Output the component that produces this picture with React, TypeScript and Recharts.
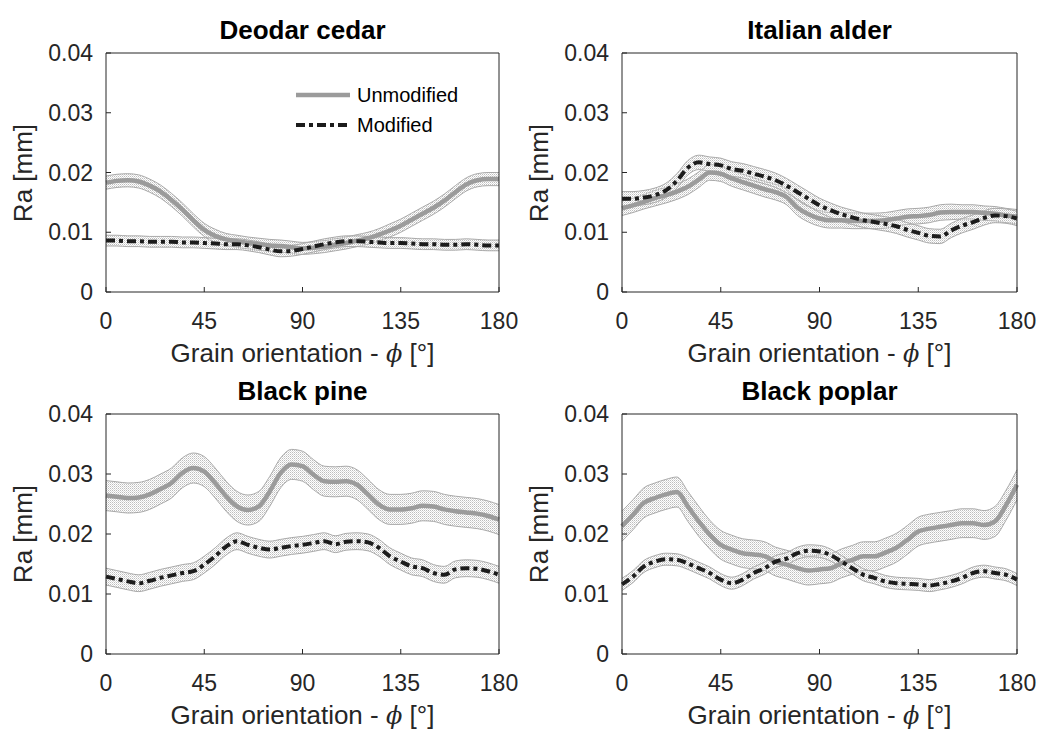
import { Area, ComposedChart, Legend, Line, XAxis, YAxis } from 'recharts';

// grain orientation, degrees
const angles = [
  0, 5, 10, 15, 20, 25, 30, 35, 40, 45, 50, 55, 60, 65, 70, 75, 80, 85, 90,
  95, 100, 105, 110, 115, 120, 125, 130, 135, 140, 145, 150, 155, 160, 165, 170, 175, 180,
];
const xTicks = [0, 45, 90, 135, 180];
const yTicks = [0, 0.01, 0.02, 0.03, 0.04];
const seriesNames = ['Unmodified', 'Modified'];

// Deodar cedar
const deodarUnmod = [
  0.0183, 0.0186, 0.0187, 0.0185, 0.0178, 0.0168, 0.0154, 0.0138, 0.012, 0.0104, 0.0094, 0.0088, 0.0085,
  0.0082, 0.008, 0.0078, 0.0077, 0.0075, 0.0073, 0.0074, 0.0076, 0.0079, 0.0082, 0.0086, 0.009, 0.0096,
  0.0103, 0.0111, 0.0121, 0.0131, 0.0141, 0.0153, 0.0167, 0.018, 0.0187, 0.0189, 0.0189,
];
const deodarUnmodErr = [
  0.0011, 0.0011, 0.0011, 0.0011, 0.0011, 0.0011, 0.0011, 0.0011, 0.0011, 0.0011, 0.0011, 0.001, 0.001,
  0.001, 0.001, 0.001, 0.001, 0.001, 0.001, 0.001, 0.001, 0.001, 0.001, 0.001, 0.001, 0.001,
  0.0011, 0.0011, 0.0011, 0.0011, 0.0011, 0.0011, 0.0011, 0.0011, 0.0011, 0.0011, 0.0011,
];
const deodarMod = [
  0.0086, 0.0086, 0.0085, 0.0085, 0.0084, 0.0084, 0.0084, 0.0083, 0.0083, 0.0082, 0.0081, 0.008, 0.008,
  0.0078, 0.0075, 0.0071, 0.0068, 0.0069, 0.0072, 0.0076, 0.008, 0.0083, 0.0085, 0.0085, 0.0084, 0.0083,
  0.0082, 0.0082, 0.0081, 0.008, 0.008, 0.0079, 0.0079, 0.008, 0.0079, 0.0078, 0.0078,
];
const deodarModErr = [
  0.0009, 0.0009, 0.0009, 0.0009, 0.0009, 0.0009, 0.0009, 0.0009, 0.0009, 0.0009, 0.0009, 0.0009, 0.0009,
  0.0009, 0.0009, 0.0009, 0.0009, 0.0009, 0.0009, 0.0009, 0.0009, 0.0009, 0.0009, 0.0009, 0.0009, 0.0009,
  0.0009, 0.0009, 0.0009, 0.0009, 0.0009, 0.0009, 0.0009, 0.0009, 0.0009, 0.0009, 0.0009,
];

// Italian alder
const alderUnmod = [
  0.014, 0.0145, 0.0151, 0.0157, 0.0162, 0.0168, 0.0176, 0.0188, 0.02, 0.0198, 0.019, 0.0184, 0.0178,
  0.0172, 0.0167, 0.0159, 0.0141, 0.013, 0.0123, 0.012, 0.012, 0.0119, 0.0119, 0.0119, 0.012, 0.0123,
  0.0126, 0.0127, 0.0129, 0.0133, 0.0134, 0.0134, 0.0134, 0.0132, 0.0131, 0.0128, 0.0126,
];
const alderUnmodErr = [
  0.0012, 0.0012, 0.0012, 0.0013, 0.0013, 0.0013, 0.0013, 0.0013, 0.0013, 0.0013, 0.0013, 0.0013, 0.0013,
  0.0013, 0.0013, 0.0013, 0.0013, 0.0013, 0.0013, 0.0013, 0.0013, 0.0013, 0.0013, 0.0013, 0.0013, 0.0013,
  0.0013, 0.0013, 0.0013, 0.0013, 0.0013, 0.0012, 0.0012, 0.0012, 0.0012, 0.0012, 0.0012,
];
const alderMod = [
  0.0156, 0.0156, 0.0158, 0.0162, 0.017, 0.0186, 0.0208, 0.0217, 0.0214, 0.0212, 0.0206, 0.0203, 0.0198,
  0.0193, 0.0187, 0.0178, 0.0167, 0.0156, 0.0145, 0.0137, 0.013, 0.0125, 0.012, 0.0117, 0.0114, 0.011,
  0.0104, 0.0099, 0.0094, 0.0093, 0.0103, 0.0111, 0.0117, 0.0124, 0.0128, 0.0127, 0.0123,
];
const alderModErr = [
  0.0012, 0.0012, 0.0012, 0.0012, 0.0012, 0.0012, 0.0012, 0.0012, 0.0012, 0.0012, 0.0012, 0.0012, 0.0012,
  0.0012, 0.0012, 0.0012, 0.0012, 0.0012, 0.0012, 0.0012, 0.0012, 0.0012, 0.0012, 0.0012, 0.0012, 0.0012,
  0.0012, 0.0012, 0.0012, 0.0012, 0.0012, 0.0012, 0.0012, 0.0012, 0.0012, 0.0012, 0.0012,
];

// Black pine
const pineUnmod = [
  0.0264, 0.0262, 0.026, 0.0261, 0.0266, 0.0275, 0.0285, 0.0302, 0.031, 0.0304, 0.0285, 0.0263, 0.0246,
  0.024, 0.0246, 0.0271, 0.0302, 0.0316, 0.0313, 0.0299, 0.0288, 0.0287, 0.0288, 0.0282, 0.0266, 0.0249,
  0.0241, 0.0241, 0.0243, 0.0247, 0.0246, 0.0241, 0.0238, 0.0236, 0.0234, 0.023, 0.0224,
];
const pineUnmodErr = [
  0.0025, 0.0025, 0.0025, 0.0025, 0.0025, 0.0025, 0.0025, 0.0025, 0.0025, 0.0025, 0.0025, 0.0025, 0.0025,
  0.0025, 0.0025, 0.0025, 0.0025, 0.0025, 0.0025, 0.0025, 0.0025, 0.0025, 0.0025, 0.0025, 0.0025, 0.0025,
  0.0025, 0.0025, 0.0025, 0.0025, 0.0025, 0.0025, 0.0025, 0.0025, 0.0025, 0.0025, 0.0025,
];
const pineMod = [
  0.0129, 0.0125, 0.0121, 0.0118, 0.0122, 0.0127, 0.0131, 0.0135, 0.0138, 0.0149, 0.0163, 0.0179, 0.0188,
  0.0182, 0.0177, 0.0174, 0.0177, 0.018, 0.0182, 0.0185, 0.0188, 0.0183, 0.0187, 0.0188, 0.0186, 0.0177,
  0.0163, 0.0154, 0.0146, 0.0143, 0.0135, 0.0132, 0.0141, 0.0143, 0.0142, 0.0138, 0.0132,
];
const pineModErr = [
  0.0014, 0.0014, 0.0014, 0.0014, 0.0014, 0.0014, 0.0014, 0.0014, 0.0014, 0.0014, 0.0014, 0.0014, 0.0014,
  0.0014, 0.0014, 0.0014, 0.0014, 0.0014, 0.0014, 0.0014, 0.0014, 0.0014, 0.0014, 0.0014, 0.0014, 0.0014,
  0.0014, 0.0014, 0.0014, 0.0014, 0.0014, 0.0014, 0.0014, 0.0014, 0.0014, 0.0014, 0.0014,
];

// Black poplar
const poplarUnmod = [
  0.0213, 0.0232, 0.0252, 0.026, 0.0266, 0.027, 0.0246, 0.0221, 0.0199, 0.0182, 0.0174, 0.0168, 0.0166,
  0.0163, 0.0154, 0.0149, 0.0143, 0.0139, 0.0141, 0.0143, 0.0151, 0.0157, 0.0163, 0.0163, 0.0169, 0.0177,
  0.019, 0.0204, 0.0209, 0.0212, 0.0215, 0.0218, 0.0218, 0.0215, 0.0221, 0.0248, 0.0282,
];
const poplarUnmodErr = [
  0.0025, 0.0025, 0.0025, 0.0025, 0.0025, 0.0025, 0.0025, 0.0025, 0.0024, 0.0024, 0.0024, 0.0024, 0.0024,
  0.0024, 0.0024, 0.0024, 0.0024, 0.0024, 0.0024, 0.0024, 0.0024, 0.0024, 0.0024, 0.0024, 0.0024, 0.0024,
  0.0024, 0.0024, 0.0024, 0.0024, 0.0024, 0.0024, 0.0024, 0.0024, 0.0025, 0.0025, 0.0025,
];
const poplarMod = [
  0.0116, 0.0129, 0.0146, 0.0154, 0.0158, 0.0157, 0.0151, 0.0143, 0.0135, 0.0124, 0.0118, 0.0124, 0.0135,
  0.0143, 0.0154, 0.0159, 0.0168, 0.0172, 0.0171, 0.0165, 0.0154, 0.0143, 0.0132, 0.0127, 0.0121, 0.0118,
  0.0117, 0.0116, 0.0114, 0.0117, 0.0121, 0.0127, 0.0135, 0.0138, 0.0135, 0.0132, 0.0124,
];
const poplarModErr = [
  0.001, 0.001, 0.001, 0.001, 0.001, 0.001, 0.001, 0.001, 0.001, 0.001, 0.001, 0.001, 0.001,
  0.001, 0.001, 0.001, 0.001, 0.001, 0.001, 0.001, 0.001, 0.001, 0.001, 0.001, 0.001, 0.001,
  0.001, 0.001, 0.001, 0.001, 0.001, 0.001, 0.001, 0.001, 0.001, 0.001, 0.001,
];

const FONT = '"Liberation Sans", Arial, Helvetica, sans-serif';
const AXIS = '#262626';
const UNMOD = '#9b9b9b';
const MOD = '#1c1c1c';
const MOD_DASH = '9 4 4 4';

interface Box {
  x: number;
  y: number;
  w: number;
  h: number;
}
interface Plot {
  l: number;
  t: number;
  r: number;
  b: number;
}

interface PanelProps {
  id: string;
  title: string;
  box: Box;
  plot: Plot;
  unmod: number[];
  unmodErr: number[];
  mod: number[];
  modErr: number[];
  legend?: boolean;
}

const Y_LEFT_W = 60;
const Y_RIGHT_W = 10;
const X_BOTTOM_H = 40;
const X_TOP_H = 10;

function LegendBox({ payload }: { payload?: Array<{ value?: string; type?: string }> }) {
  const items = (payload ?? [])
    .filter((p) => p.type !== 'none')
    .sort((a, b) => seriesNames.indexOf(a.value ?? '') - seriesNames.indexOf(b.value ?? ''));
  return (
    <svg width={200} height={62} style={{ display: 'block' }}>
      {items.map((p, i) => {
        const cy = 15 + i * 30;
        const dashed = p.value === 'Modified';
        return (
          <g key={p.value}>
            <line
              x1={2}
              x2={56}
              y1={cy}
              y2={cy}
              stroke={dashed ? MOD : UNMOD}
              strokeWidth={dashed ? 4 : 4.5}
              strokeDasharray={dashed ? MOD_DASH : undefined}
            />
            <text x={63} y={cy} dominantBaseline="central" fontSize={20} fontFamily={FONT} fill="#000">
              {p.value}
            </text>
          </g>
        );
      })}
    </svg>
  );
}

function Panel({ id, title, box, plot, unmod, unmodErr, mod, modErr, legend }: PanelProps) {
  const data = angles.map((a, i) => ({
    a,
    unmod: unmod[i],
    unmodBand: [unmod[i] - unmodErr[i], unmod[i] + unmodErr[i]],
    mod: mod[i],
    modBand: [mod[i] - modErr[i], mod[i] + modErr[i]],
  }));

  const margin = {
    left: plot.l - box.x - Y_LEFT_W,
    right: box.x + box.w - plot.r - Y_RIGHT_W,
    top: plot.t - box.y - X_TOP_H,
    bottom: box.y + box.h - plot.b - X_BOTTOM_H,
  };
  const cx = (plot.l + plot.r) / 2 - box.x;
  const cy = (plot.t + plot.b) / 2 - box.y;

  const tickStyle = { fill: AXIS, fontSize: 23, fontFamily: FONT };

  return (
    <div style={{ position: 'absolute', left: box.x, top: box.y, width: box.w, height: box.h }}>
      <ComposedChart width={box.w} height={box.h} data={data} margin={margin}>
        <defs>
          <pattern id={`stip-${id}`} width={2} height={2} patternUnits="userSpaceOnUse">
            <rect x={0} y={0} width={1} height={1} fill="#bdbdbd" />
            <rect x={1} y={1} width={1} height={1} fill="#dcdcdc" />
          </pattern>
        </defs>
        <XAxis
          dataKey="a"
          type="number"
          domain={[0, 180]}
          ticks={xTicks}
          interval={0}
          height={X_BOTTOM_H}
          tickSize={-5}
          tickMargin={26}
          tick={tickStyle}
          stroke={AXIS}
          axisLine={{ stroke: AXIS }}
          tickLine={{ stroke: AXIS }}
        />
        <XAxis
          xAxisId="top"
          orientation="top"
          type="number"
          domain={[0, 180]}
          allowDataOverflow
          ticks={xTicks}
          interval={0}
          height={X_TOP_H}
          tickSize={-5}
          tick={false}
          axisLine={{ stroke: AXIS }}
          tickLine={{ stroke: AXIS }}
        />
        <YAxis
          type="number"
          domain={[0, 0.04]}
          allowDataOverflow
          ticks={yTicks}
          interval={0}
          width={Y_LEFT_W}
          tickSize={-5}
          tickMargin={18}
          tick={tickStyle}
          tickFormatter={(v: number) => (v === 0 ? '0' : v.toFixed(2))}
          axisLine={{ stroke: AXIS }}
          tickLine={{ stroke: AXIS }}
        />
        <YAxis
          yAxisId="right"
          orientation="right"
          type="number"
          domain={[0, 0.04]}
          allowDataOverflow
          ticks={yTicks}
          interval={0}
          width={Y_RIGHT_W}
          tickSize={-5}
          tick={false}
          axisLine={{ stroke: AXIS }}
          tickLine={{ stroke: AXIS }}
        />

        <Area
          type="monotone"
          dataKey="unmodBand"
          stroke="#a9a9a9"
          strokeWidth={1}
          fill={`url(#stip-${id})`}
          fillOpacity={1}
          dot={false}
          activeDot={false}
          legendType="none"
          isAnimationActive={false}
        />
        <Area
          type="monotone"
          dataKey="modBand"
          stroke="#a9a9a9"
          strokeWidth={1}
          fill={`url(#stip-${id})`}
          fillOpacity={1}
          dot={false}
          activeDot={false}
          legendType="none"
          isAnimationActive={false}
        />
        <Line
          type="monotone"
          dataKey="unmod"
          name={seriesNames[0]}
          stroke={UNMOD}
          strokeWidth={4.5}
          dot={false}
          activeDot={false}
          isAnimationActive={false}
        />
        <Line
          type="monotone"
          dataKey="mod"
          name={seriesNames[1]}
          stroke={MOD}
          strokeWidth={4}
          strokeDasharray={MOD_DASH}
          dot={false}
          activeDot={false}
          isAnimationActive={false}
        />
        {legend && (
          <Legend
            layout="vertical"
            align="center"
            verticalAlign="middle"
            content={<LegendBox />}
            wrapperStyle={{ position: 'absolute', left: 294, top: 80, width: 200, height: 62 }}
          />
        )}
      </ComposedChart>

      {/* title */}
      <div
        style={{
          position: 'absolute',
          left: cx - 150,
          width: 300,
          top: plot.t - box.y - 13 - 23,
          textAlign: 'center',
          fontFamily: FONT,
          fontWeight: 700,
          fontSize: 26,
          lineHeight: '26px',
          color: '#000',
        }}
      >
        {title}
      </div>

      {/* x label */}
      <div
        style={{
          position: 'absolute',
          left: cx - 200,
          width: 400,
          top: plot.b - box.y + 71 - 23,
          textAlign: 'center',
          fontFamily: FONT,
          fontSize: 26,
          lineHeight: '26px',
          color: AXIS,
          whiteSpace: 'nowrap',
        }}
      >
        Grain orientation -{' '}
        <i style={{ fontFamily: '"DejaVu Serif", serif', fontSize: 24 }}>ϕ</i> [°]
      </div>

      {/* y label */}
      <div
        style={{
          position: 'absolute',
          left: plot.l - box.x - 83 - 100,
          top: cy - 15,
          width: 200,
          height: 30,
          lineHeight: '30px',
          textAlign: 'center',
          fontFamily: FONT,
          fontSize: 26,
          color: AXIS,
          transform: 'rotate(-90deg)',
          transformOrigin: 'center',
          whiteSpace: 'nowrap',
        }}
      >
        Ra [mm]
      </div>
    </div>
  );
}

export default function App() {
  return (
    <div
      style={{
        position: 'absolute',
        left: 0,
        top: 0,
        width: 1037,
        height: 731,
        background: '#fff',
        overflow: 'hidden',
      }}
    >
      <Panel
        id="deodar"
        title="Deodar cedar"
        box={{ x: 0, y: 0, w: 518, h: 362 }}
        plot={{ l: 106, t: 53, r: 499, b: 292 }}
        unmod={deodarUnmod}
        unmodErr={deodarUnmodErr}
        mod={deodarMod}
        modErr={deodarModErr}
        legend
      />
      <Panel
        id="alder"
        title="Italian alder"
        box={{ x: 518, y: 0, w: 519, h: 362 }}
        plot={{ l: 622, t: 53, r: 1017, b: 292 }}
        unmod={alderUnmod}
        unmodErr={alderUnmodErr}
        mod={alderMod}
        modErr={alderModErr}
      />
      <Panel
        id="pine"
        title="Black pine"
        box={{ x: 0, y: 362, w: 518, h: 369 }}
        plot={{ l: 106, t: 414, r: 499, b: 654 }}
        unmod={pineUnmod}
        unmodErr={pineUnmodErr}
        mod={pineMod}
        modErr={pineModErr}
      />
      <Panel
        id="poplar"
        title="Black poplar"
        box={{ x: 518, y: 362, w: 519, h: 369 }}
        plot={{ l: 622, t: 414, r: 1017, b: 654 }}
        unmod={poplarUnmod}
        unmodErr={poplarUnmodErr}
        mod={poplarMod}
        modErr={poplarModErr}
      />
    </div>
  );
}
